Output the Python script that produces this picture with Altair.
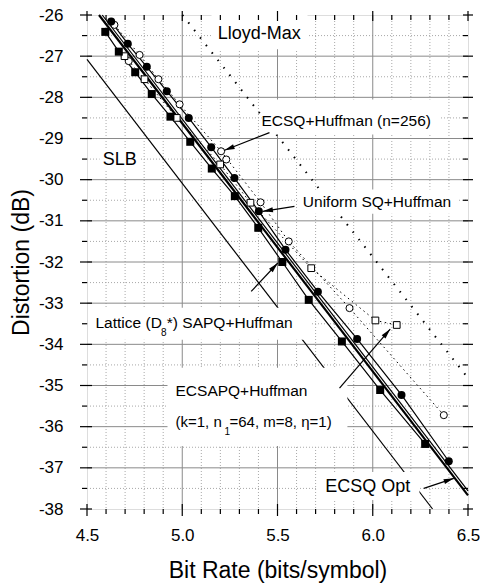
import math
import altair as alt
import pandas as pd

FONT = "Liberation Sans"
W, H = 381, 494
X0, X1 = 4.5, 6.5
Y0, Y1 = -38.0, -26.0

# ---------------- data ----------------
slb_rate = [4.5, 6.314]
slb_dist = [-27.08, -38.0]

opt_rate = [4.563, 6.5]          # ECSQ Opt (thick)
opt_dist = [-26.0, -37.67]
opt2_rate = [4.58, 6.5]          # companion thin line
opt2_dist = [-26.0, -37.56]

lloyd_rate = [5.001, 6.5]
lloyd_dist = [-26.0, -34.82]

ecsapq_rate = [4.596, 4.667, 4.753, 4.840, 4.938, 5.042, 5.155, 5.276, 5.399,
               5.525, 5.664, 5.838, 6.039, 6.275]
ecsapq_dist = [-26.41, -26.89, -27.39, -27.92, -28.47, -29.08, -29.73, -30.40,
               -31.17, -32.00, -32.92, -33.93, -35.11, -36.42]

ecsq_rate = [4.627, 4.714, 4.814, 4.919, 5.034, 5.152, 5.274, 5.402, 5.542,
             5.712, 5.918, 6.151, 6.399]
ecsq_dist = [-26.16, -26.70, -27.26, -27.85, -28.50, -29.21, -29.96, -30.77,
             -31.70, -32.72, -33.87, -35.23, -36.84]

usq_rate = [4.644, 4.776, 4.875, 4.986, 5.204, 5.411, 5.559, 5.878, 6.373]
usq_dist = [-26.24, -26.97, -27.56, -28.17, -29.31, -30.55, -31.50, -33.12, -35.72]

extra_rate = [4.719, 5.231]
extra_dist = [-27.12, -29.51]

lat_rate = [4.697, 4.802, 4.971, 5.199, 5.358, 5.677, 6.014, 6.126]
lat_dist = [-27.00, -27.56, -28.50, -29.63, -30.56, -32.15, -33.42, -33.53]

x_major = [4.5, 5.0, 5.5, 6.0, 6.5]
x_minor = [round(4.5 + 0.1 * i, 1) for i in range(1, 20) if i % 5 != 0]
y_major = [float(v) for v in range(-38, -25)]
y_minor = [v + 0.5 for v in range(-38, -26)]

# annotation texts
labels = [
    ("Lloyd-Max", 5.1866, -26.47, 18),
    ("ECSQ+Huffman (n=256)", 5.416, -28.586, 15.5),
    ("SLB", 4.583, -29.511, 18),
    ("Uniform SQ+Huffman", 5.633, -30.55, 15.5),
    ("Lattice (D", 4.5446, -33.484, 15.5),
    ("8", 4.888, -33.72, 10),
    ("*) SAPQ+Huffman", 4.919, -33.484, 15.5),
    ("ECSAPQ+Huffman", 4.9646, -35.124, 15.5),
    ("(k=1, n", 4.9646, -35.878, 15),
    ("1", 5.222, -36.13, 10),
    ("=64, m=8, \u03b7=1)", 5.248, -35.878, 15),
    ("ECSQ Opt", 5.7504, -37.46, 18),
]

# white label backgrounds (x, x2, y, y2)
boxes = [
    (5.1535, 5.6575, -26.0, -26.835),
    (5.416, 6.350, -28.051, -28.903),
    (4.566, 4.776, -29.27, -29.76),
    (5.605, 6.445, -30.24, -30.825),
    (4.513, 5.678, -33.114, -33.89),
    (4.9226, 5.867, -34.57, -36.47),
    (5.710, 6.245, -37.10, -37.78),
]

# arrows (from rate, from dist, to rate, to dist)
arrows = [
    (5.458, -28.856, 5.222, -29.285),
    (5.589, -30.647, 5.423, -30.769),
    (5.362, -32.715, 5.5016, -32.024),
    (5.8255, -35.066, 6.0916, -33.630),
    (6.268, -37.499, 6.4255, -37.256),
]

# ---------------- encodings ----------------
xscale = alt.Scale(domain=[X0, X1], nice=False, zero=False)
yscale = alt.Scale(domain=[Y0, Y1], nice=False, zero=False)
xaxis = alt.Axis(values=x_major, labelExpr="format(datum.value, '.1f')",
                 title="Bit Rate (bits/symbol)", grid=False, domain=False, ticks=False,
                 labelFontSize=17, labelPadding=18, labelColor="black", labelFont=FONT,
                 labelFlush=False, labelOverlap=False,
                 titleFontSize=23, titleFontWeight="normal", titleColor="black",
                 titleFont=FONT, titleBaseline="alphabetic", titleY=68)
yaxis = alt.Axis(values=y_major, labelExpr="'' + datum.value",
                 title="Distortion (dB)", grid=False, domain=False, ticks=False,
                 labelFontSize=17, labelPadding=24, labelColor="black", labelFont=FONT,
                 labelFlush=False, labelOverlap=False,
                 titleFontSize=23, titleFontWeight="normal", titleColor="black",
                 titleFont=FONT, titleBaseline="alphabetic", titleX=-59)


def ex(f):
    return alt.X(f, type="quantitative", scale=xscale, axis=xaxis)


def ey(f):
    return alt.Y(f, type="quantitative", scale=yscale, axis=yaxis)


def ex2(f):
    return alt.X2(f)


def ey2(f):
    return alt.Y2(f)


layers = []

# grid
df = pd.DataFrame({"v": [v for v in x_minor]})
layers.append(alt.Chart(df).mark_rule(color="#a8a8a8", strokeWidth=1, strokeDash=[1, 2])
              .encode(x=ex("v"), y=alt.value(0), y2=alt.value(H)))
df = pd.DataFrame({"v": y_minor})
layers.append(alt.Chart(df).mark_rule(color="#a8a8a8", strokeWidth=1, strokeDash=[1, 2])
              .encode(y=ey("v"), x=alt.value(0), x2=alt.value(W)))
df = pd.DataFrame({"v": x_major[1:-1]})
layers.append(alt.Chart(df).mark_rule(color="#8a8a8a", strokeWidth=1)
              .encode(x=ex("v"), y=alt.value(0), y2=alt.value(H)))
df = pd.DataFrame({"v": y_major[1:-1]})
layers.append(alt.Chart(df).mark_rule(color="#8a8a8a", strokeWidth=1)
              .encode(y=ey("v"), x=alt.value(0), x2=alt.value(W)))


def line_layer(rates, dists, **kw):
    d = pd.DataFrame({"r": rates, "d": dists, "o": list(range(len(rates)))})
    return alt.Chart(d).mark_line(color="black", **kw).encode(
        x=ex("r"), y=ey("d"), order="o:Q")


def point_layer(rates, dists, shape, filled, size):
    d = pd.DataFrame({"r": rates, "d": dists})
    return alt.Chart(d).mark_point(shape=shape, filled=filled, size=size, color="black",
                                   opacity=1, strokeWidth=1,
                                   fill="black" if filled else "white").encode(
        x=ex("r"), y=ey("d"))


layers.append(line_layer(slb_rate, slb_dist, strokeWidth=1.2))
layers.append(line_layer(lloyd_rate, lloyd_dist, strokeWidth=2, strokeDash=[1.5, 8]))
layers.append(line_layer(usq_rate, usq_dist, strokeWidth=1, strokeDash=[1.5, 3.5]))
layers.append(line_layer(lat_rate, lat_dist, strokeWidth=1, strokeDash=[1.5, 3.5]))
layers.append(line_layer(ecsapq_rate, ecsapq_dist, strokeWidth=1.2))
layers.append(line_layer(opt2_rate, opt2_dist, strokeWidth=1.2))
layers.append(line_layer(opt_rate, opt_dist, strokeWidth=2.2))
layers.append(line_layer(ecsq_rate, ecsq_dist, strokeWidth=1.2))

layers.append(point_layer(usq_rate, usq_dist, "circle", False, 50))
layers.append(point_layer(extra_rate, extra_dist, "circle", False, 50))
layers.append(point_layer(lat_rate, lat_dist, "square", False, 45))
layers.append(point_layer(ecsapq_rate, ecsapq_dist, "square", True, 64))
layers.append(point_layer(ecsq_rate, ecsq_dist, "circle", True, 64))

# white boxes behind labels
bdf = pd.DataFrame(boxes, columns=["x", "x2", "y", "y2"])
layers.append(alt.Chart(bdf).mark_rect(fill="white", stroke=None).encode(
    x=ex("x"), x2=ex2("x2"), y=ey("y"), y2=ey2("y2")))

# labels
for text, lx, ly, fs in labels:
    d = pd.DataFrame({"r": [lx], "d": [ly], "t": [text]})
    layers.append(alt.Chart(d).mark_text(align="left", baseline="middle", font=FONT,
                                         fontSize=fs, color="black").encode(
        x=ex("r"), y=ey("d"), text="t:N"))

# arrows
kx = W / (X1 - X0)
ky = H / (Y1 - Y0)
adf = pd.DataFrame(arrows, columns=["x", "y", "x2", "y2"])
adf["ang"] = [math.degrees(math.atan2((b[2] - b[0]) * kx, (b[3] - b[1]) * ky)) % 360
              for b in arrows]
layers.append(alt.Chart(adf).mark_rule(color="black", strokeWidth=1.2).encode(
    x=ex("x"), y=ey("y"), x2=ex2("x2"), y2=ey2("y2")))
layers.append(alt.Chart(adf).mark_point(shape="M0,0L0.55,2.2L-0.55,2.2Z", filled=True,
                                        size=85, color="black", opacity=1).encode(
    x=ex("x2"), y=ey("y2"), angle=alt.Angle("ang:Q", scale=None)))


# axis ticks (mirrored on all four sides)
def xticks(vals, ypix, size, off):
    d = pd.DataFrame({"v": vals})
    return alt.Chart(d).mark_tick(orient="vertical", size=size, thickness=1.2,
                                  color="black", yOffset=off, opacity=1).encode(
        x=ex("v"), y=alt.value(ypix))


def yticks(vals, xpix, size, off):
    d = pd.DataFrame({"v": vals})
    return alt.Chart(d).mark_tick(orient="horizontal", size=size, thickness=1.2,
                                  color="black", xOffset=off, opacity=1).encode(
        y=ey("v"), x=alt.value(xpix))


layers.append(xticks(x_major, H, 12, 1))
layers.append(xticks(x_minor, H, 5, 2.5))
layers.append(xticks(x_major, 0, 10, 1))
layers.append(xticks(x_minor, 0, 5, 2.5))
layers.append(yticks(y_major, 0, 12, -1))
layers.append(yticks(y_minor, 0, 5, -2.5))
layers.append(yticks(y_major, W, 10, 0))
layers.append(yticks(y_minor, W, 5, -2.5))

chart = alt.layer(*layers).properties(
    width=W, height=H,
    padding={"left": 87, "top": 15, "right": 12, "bottom": 76},
    autosize=alt.AutoSizeParams(type="none"),
    background="white",
).configure_view(stroke="black", strokeWidth=1.5).configure(font=FONT)

chart.save("out.html", embed_options={"renderer": "svg", "actions": False})
